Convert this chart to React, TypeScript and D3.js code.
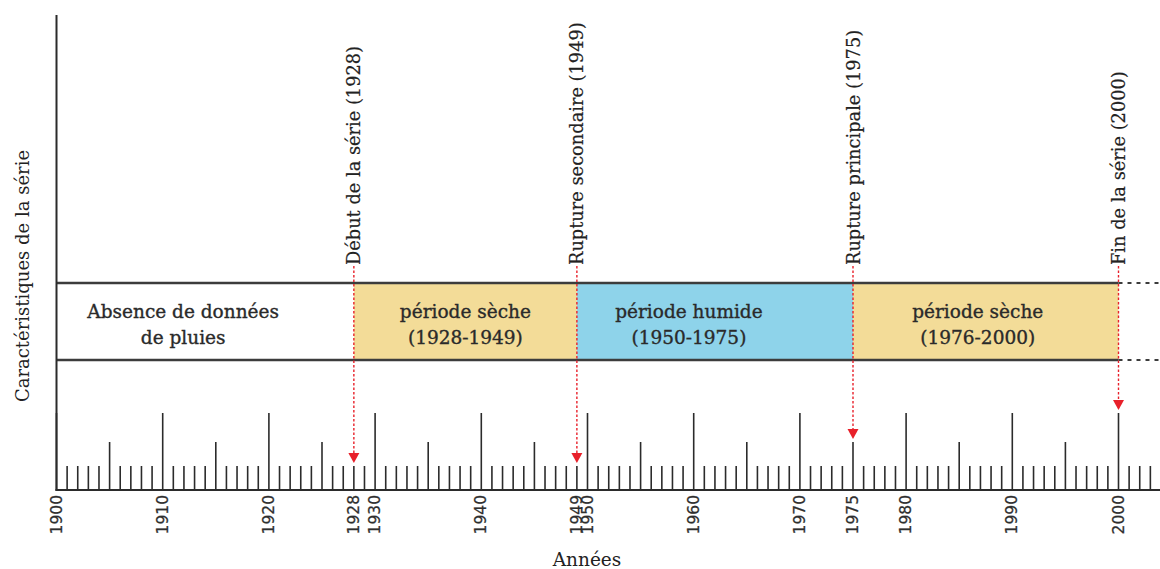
import React from "react";
import * as d3 from "d3";

// ---- data ----
const axisStartYear = 1900;
const axisEndYear = 2003;
const tickLabelYears = [1900, 1910, 1920, 1928, 1930, 1940, 1949, 1950, 1960, 1970, 1975, 1980, 1990, 2000];
const breakYears = [1928, 1949, 1975, 2000];
const breakLabels = [
  "Début de la série (1928)",
  "Rupture secondaire (1949)",
  "Rupture principale (1975)",
  "Fin de la série (2000)",
];
const periodStarts = [1900, 1928, 1949, 1975];
const periodEnds = [1928, 1949, 1975, 2000];
const periodLine1 = ["Absence de données", "période sèche", "période humide", "période sèche"];
const periodLine2 = ["de pluies", "(1928-1949)", "(1950-1975)", "(1976-2000)"];
const periodColors = ["#ffffff", "#F3DC98", "#8ED3EA", "#F3DC98"];
const xAxisTitle = "Années";
const yAxisTitle = "Caractéristiques de la série";

const W = 1160;
const H = 569;

export default function App() {
  const x = d3.scaleLinear().domain([1900, 2000]).range([56.5, 1118.5]);
  const axisY = 490;
  const bandTop = 283;
  const bandBottom = 360;
  const years = d3.range(axisStartYear, axisEndYear + 1);
  const tickH = (y: number) => (y % 10 === 0 ? 77 : y % 5 === 0 ? 48 : 24);
  const labelShift = [-22, 0, -26, -8];
  const serif = "'DejaVu Serif', 'Liberation Serif', serif";
  const red = "#E8202A";
  const ink = "#2b2b2b";

  return (
    <svg
      width={W}
      height={H}
      style={{ position: "absolute", left: 0, top: 0, background: "#fff" }}
    >
      {/* period band */}
      {periodStarts.map((s, i) => (
        <rect
          key={"p" + i}
          x={x(s)}
          y={bandTop}
          width={x(periodEnds[i]) - x(s)}
          height={bandBottom - bandTop}
          fill={periodColors[i]}
        />
      ))}
      <line x1={x(1900)} x2={x(2000)} y1={bandTop} y2={bandTop} stroke="#3c3c3c" strokeWidth={2.5} />
      <line x1={x(1900)} x2={x(2000)} y1={bandBottom} y2={bandBottom} stroke="#3c3c3c" strokeWidth={2.5} />
      <line x1={x(2000)} x2={W} y1={bandTop} y2={bandTop} stroke="#3c3c3c" strokeWidth={2} strokeDasharray="4,5" />
      <line x1={x(2000)} x2={W} y1={bandBottom} y2={bandBottom} stroke="#3c3c3c" strokeWidth={2} strokeDasharray="4,5" />

      {periodStarts.map((s, i) => {
        const cx = (x(s) + x(periodEnds[i])) / 2 + labelShift[i];
        return (
          <g
            key={"pl" + i}
            fontFamily={serif}
            fontSize={18.5}
            fill="#2a2a2a"
            stroke="#2a2a2a"
            strokeWidth={0.35}
            textAnchor="middle"
          >
            <text x={cx} y={311} dominantBaseline="central">{periodLine1[i]}</text>
            <text x={cx} y={337} dominantBaseline="central">{periodLine2[i]}</text>
          </g>
        );
      })}

      {/* ticks */}
      {years.map((yr) => (
        <line
          key={"t" + yr}
          x1={x(yr)}
          x2={x(yr)}
          y1={axisY}
          y2={axisY - tickH(yr)}
          stroke={ink}
          strokeWidth={1.6}
        />
      ))}

      {/* axes */}
      <line x1={x(1900)} x2={x(1900)} y1={15} y2={axisY + 1} stroke={ink} strokeWidth={2} />
      <line x1={x(1900) - 1} x2={W} y1={axisY} y2={axisY} stroke={ink} strokeWidth={2} />

      {/* tick labels */}
      {tickLabelYears.map((yr) => (
        <text
          key={"l" + yr}
          transform={`translate(${x(yr)},${axisY + 5}) rotate(-90)`}
          textAnchor="end"
          dominantBaseline="central"
          fontFamily="'DejaVu Sans', Verdana, sans-serif"
          fontSize={15.5}
          fill="#2e2e2e"
          stroke="#2e2e2e"
          strokeWidth={0.25}
        >
          {yr}
        </text>
      ))}

      {/* break annotations */}
      {breakYears.map((yr, i) => {
        const bx = x(yr);
        const tip = axisY - tickH(yr) - 3;
        return (
          <g key={"b" + i}>
            <line x1={bx} x2={bx} y1={266} y2={tip - 9} stroke={red} strokeWidth={1.4} strokeDasharray="2.5,2" />
            <path d={`M${bx - 5.5},${tip - 10}L${bx + 5.5},${tip - 10}L${bx},${tip}Z`} fill={red} />
            <text
              transform={`translate(${bx},${265}) rotate(-90)`}
              textAnchor="start"
              dominantBaseline="central"
              fontFamily={serif}
              fontSize={17.8}
              fill="#222"
              stroke="#222"
              strokeWidth={0.2}
            >
              {breakLabels[i]}
            </text>
          </g>
        );
      })}

      {/* axis titles */}
      <text x={587} y={559} textAnchor="middle" dominantBaseline="central" fontFamily={serif} fontSize={18.5} fill="#222">
        {xAxisTitle}
      </text>
      <text
        transform={`translate(22,276) rotate(-90)`}
        textAnchor="middle"
        dominantBaseline="central"
        fontFamily={serif}
        fontSize={18}
        fill="#222"
      >
        {yAxisTitle}
      </text>
    </svg>
  );
}
